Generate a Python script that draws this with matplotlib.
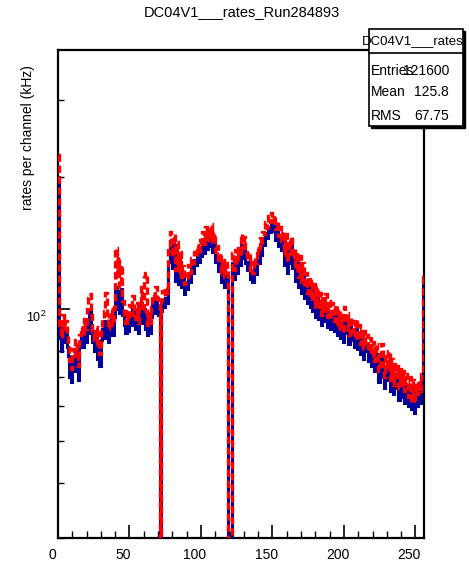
import numpy as np
import matplotlib
matplotlib.use('Agg')
import matplotlib.pyplot as plt
from matplotlib.patches import Rectangle
from matplotlib.lines import Line2D
from matplotlib.transforms import ScaledTranslation
from matplotlib.ticker import MultipleLocator, FixedLocator, NullFormatter

plt.rcParams['font.family'] = ['Liberation Sans', 'DejaVu Sans']

# rates per channel, 256 channels (dead channels = 0)
blue = [
    200, 86, 80, 92, 84, 90, 82, 78, 70, 68, 76, 72, 80, 74, 69, 82,
    86, 82, 90, 84, 94, 88, 99, 92, 84, 80, 86, 77, 82, 74, 85, 90,
    94, 86, 92, 84, 91, 95, 87, 96, 112, 100, 110, 98, 111, 97, 92, 88,
    94, 89, 97, 92, 101, 94, 90, 98, 88, 97, 103, 93, 100, 90, 87, 94,
    88, 96, 102, 98, 106, 100, 97, 0, 99, 104, 101, 106, 103, 128, 142, 132,
    124, 140, 116, 134, 114, 128, 112, 118, 108, 114, 111, 119, 115, 125, 121, 129,
    126, 133, 128, 137, 132, 140, 134, 144, 137, 146, 139, 148, 135, 142, 128, 132,
    122, 127, 115, 123, 112, 121, 117, 0, 0, 0, 127, 117, 129, 121, 131, 126,
    140, 131, 138, 127, 123, 128, 117, 122, 115, 124, 120, 131, 127, 137, 133, 142,
    140, 149, 145, 154, 150, 157, 151, 155, 144, 150, 139, 146, 136, 143, 126, 140,
    121, 136, 127, 139, 124, 130, 116, 128, 112, 125, 109, 120, 106, 115, 103, 112,
    101, 111, 99, 108, 96, 106, 95, 104, 92, 101, 94, 103, 91, 99, 90, 98,
    94, 89, 97, 87, 95, 86, 92, 84, 96, 88, 93, 83, 91, 85, 89, 82,
    90, 81, 88, 79, 86, 77, 85, 80, 83, 76, 82, 74, 80, 72, 79, 76,
    68, 75, 79, 70, 66, 74, 69, 76, 65, 73, 64, 71, 66, 70, 62, 69,
    63, 68, 61, 67, 64, 60, 66, 59, 65, 58, 63, 60, 65, 61, 67, 115]

red = [
    225, 92, 86, 97, 90, 94, 87, 83, 76, 73, 81, 78, 85, 79, 74, 87,
    91, 87, 95, 90, 100, 106, 108, 97, 89, 85, 91, 82, 88, 79, 90, 95,
    99, 109, 97, 90, 96, 100, 92, 101, 138, 118, 132, 112, 126, 104, 97, 93,
    99, 94, 102, 97, 107, 99, 95, 103, 93, 102, 112, 99, 118, 121, 92, 99,
    93, 101, 108, 104, 112, 106, 103, 0, 105, 110, 107, 112, 109, 136, 150, 140,
    132, 148, 123, 142, 121, 135, 118, 125, 114, 120, 117, 126, 121, 131, 127, 135,
    132, 140, 134, 144, 139, 150, 141, 154, 144, 153, 146, 156, 142, 149, 135, 139,
    128, 134, 121, 129, 118, 127, 123, 0, 0, 0, 134, 123, 136, 127, 138, 133,
    148, 138, 146, 134, 129, 135, 123, 128, 121, 131, 127, 138, 134, 145, 140, 150,
    148, 158, 153, 163, 158, 166, 159, 164, 152, 158, 147, 154, 143, 151, 133, 148,
    128, 144, 134, 147, 131, 137, 123, 135, 118, 132, 115, 127, 112, 121, 109, 118,
    106, 117, 104, 114, 101, 112, 100, 109, 97, 106, 99, 108, 96, 104, 95, 103,
    99, 94, 102, 91, 100, 90, 97, 88, 101, 93, 98, 87, 96, 89, 94, 86,
    95, 85, 92, 83, 90, 81, 89, 84, 87, 80, 86, 78, 84, 76, 83, 80,
    72, 79, 83, 74, 70, 78, 73, 80, 69, 77, 67, 75, 70, 74, 66, 73,
    67, 72, 65, 71, 68, 63, 70, 62, 69, 61, 67, 64, 69, 65, 71, 118]

x_ticks = [0, 50, 100, 150, 200, 250]
title = 'DC04V1___rates_Run284893'
ylabel = 'rates per channel (kHz)'
stats_name = 'DC04V1___rates'
stats_rows = [('Entries', '121600'), ('Mean', '125.8'), ('RMS', '67.75')]

W, H = 469, 567


def fx(x):
    return x / W


def fy(y):
    return 1 - y / H


fig = plt.figure(figsize=(W / 100, H / 100), dpi=100)
ax = fig.add_axes([fx(58), fy(538), 366 / W, 488 / H])

edges = np.arange(len(blue) + 1)
# zero bins fall below the log axis
b = np.where(np.array(blue) > 0, blue, 1.0)
r = np.where(np.array(red) > 0, red, 1.0)
ax.stairs(b, edges, baseline=None, color='#00009b', lw=2.2, zorder=3)
ax.stairs(r, edges, baseline=None, color='#ff0000', lw=2.4, zorder=4,
          linestyle=(0, (2.2, 1.1)))

ax.set_yscale('log')
ax.set_xlim(0, 256)
ax.set_ylim(30, 390)

ax.xaxis.set_major_locator(FixedLocator(x_ticks))
ax.xaxis.set_minor_locator(MultipleLocator(10))
ax.set_xticklabels([str(v) for v in x_ticks])
ax.yaxis.set_minor_formatter(NullFormatter())

ax.tick_params(axis='x', which='major', direction='in', length=9.5, width=1.2,
               labelsize=10, pad=7, top=False)
ax.tick_params(axis='x', which='minor', direction='in', length=5, width=1.0, top=False)
ax.tick_params(axis='y', which='major', direction='in', length=8.5, width=1.2,
               labelsize=9, pad=8, right=False)
ax.tick_params(axis='y', which='minor', direction='in', length=4.5, width=1.0, right=False)
for s in ax.spines.values():
    s.set_linewidth(1.6)

for lab in ax.get_xticklabels():
    lab.set_transform(lab.get_transform() + ScaledTranslation(-0.06, 0, fig.dpi_scale_trans))
for lab in ax.get_yticklabels():
    lab.set_transform(lab.get_transform() + ScaledTranslation(0, -0.07, fig.dpi_scale_trans))

fig.text(fx(242), fy(12), title, ha='center', va='center', fontsize=10.5)
fig.text(fx(28), fy(138), ylabel, ha='center', va='center', rotation=90, fontsize=10)

# stats box
bx0, bx1, by0, by1 = 369, 463, 29, 126
fig.patches.append(Rectangle((fx(bx0 + 2), fy(by1 + 2)), (bx1 - bx0) / W, (by1 - by0) / H,
                             transform=fig.transFigure, facecolor='black',
                             edgecolor='black', lw=1, zorder=5))
fig.patches.append(Rectangle((fx(bx0), fy(by1)), (bx1 - bx0) / W, (by1 - by0) / H,
                             transform=fig.transFigure, facecolor='white',
                             edgecolor='black', lw=1.2, zorder=6))
fig.lines.append(Line2D([fx(bx0), fx(bx1)], [fy(53), fy(53)], transform=fig.transFigure,
                        color='black', lw=1.2, zorder=7))
fig.text(fx(413), fy(41), stats_name, ha='center', va='center', fontsize=9.5, zorder=8)
for (name, val), yy in zip(stats_rows, [71, 92, 116]):
    fig.text(fx(371), fy(yy), name, ha='left', va='center', fontsize=10, zorder=8)
    fig.text(fx(449), fy(yy), val, ha='right', va='center', fontsize=10, zorder=8)

fig.savefig('out.png', dpi=100)
